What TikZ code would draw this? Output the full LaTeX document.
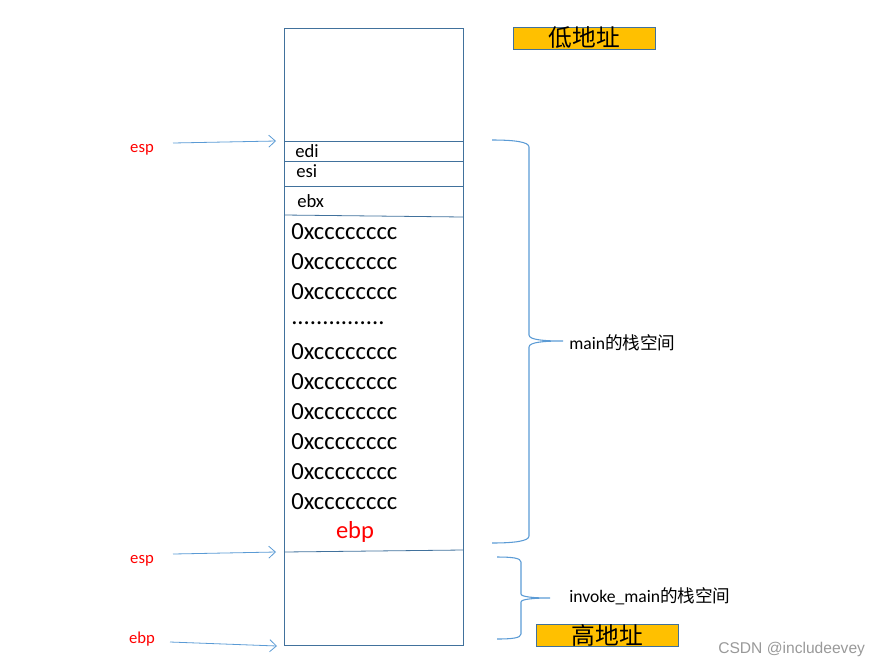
\documentclass[tikz,border=0pt]{standalone}
\usepackage{fontspec}
\setmainfont{Carlito}
\newfontfamily\cjk{Noto Sans CJK SC}
\newfontfamily\wmfont{Liberation Sans}
\usetikzlibrary{arrows.meta}
\definecolor{rectblue}{RGB}{65,113,156}
\definecolor{lineblue}{RGB}{91,155,213}
\definecolor{addrfill}{RGB}{255,192,0}
\tikzset{
  cell/.style={draw=rectblue, line width=0.6pt},
  reg/.style={anchor=west, inner sep=0pt, font=\fontsize{14}{16}\selectfont},
  val/.style={anchor=west, inner sep=0pt, font=\fontsize{18.5}{20}\selectfont},
  ptr/.style={inner sep=0pt, text=red, font=\fontsize{12.5}{14}\selectfont},
  ptrarrow/.style={draw=lineblue, line width=0.6pt, -{Straight Barb[length=5pt,width=9pt]}},
  brace/.style={draw=lineblue, line width=0.8pt},
  note/.style={anchor=west, inner sep=0pt, font=\fontsize{13.2}{15}\selectfont},
  addr/.style={draw=rectblue, fill=addrfill, line width=0.6pt, minimum width=107pt, minimum height=15pt, inner sep=0pt, font=\cjk\fontsize{17.8}{18}\selectfont},
}
\begin{document}
\begin{tikzpicture}[x=0.75pt,y=-0.75pt]
\useasboundingbox (0,0) rectangle (881,668);
% stack frame
\draw[cell] (284,28) rectangle (463,645);
\coordinate (l1) at (284,141); \coordinate (r1) at (463,141);
\coordinate (l2) at (284,161); \coordinate (r2) at (463,161);
\coordinate (l3) at (284,186); \coordinate (r3) at (463,186);
\coordinate (l4) at (284,215); \coordinate (r4) at (463,217);
\coordinate (l5) at (284,552); \coordinate (r5) at (463,550);
\draw[cell] (l1) -- (r1);
\draw[cell] (l2) -- (r2);
\draw[cell] (l3) -- (r3);
\draw[cell] (l4) -- (r4);
\draw[cell] (l5) -- (r5);
\node[reg] (edi) at (295,151.5) {edi};
\node[reg] (esi) at (296,171.5) {esi};
\node[reg] (ebx) at (297,201.5) {ebx};
\node[val] (v1) at (291,232) {0xcccccccc};
\node[val] (v2) at (291,262) {0xcccccccc};
\node[val] (v3) at (291,292) {0xcccccccc};
\node[val] (dots) at (291,323) {...............};
\node[val] (v4) at (291,352) {0xcccccccc};
\node[val] (v5) at (291,382) {0xcccccccc};
\node[val] (v6) at (291,412) {0xcccccccc};
\node[val] (v7) at (291,442) {0xcccccccc};
\node[val] (v8) at (291,472) {0xcccccccc};
\node[val] (v9) at (291,502) {0xcccccccc};
\node[inner sep=0pt, text=red, font=\fontsize{18.4}{20}\selectfont] (ebpin) at (355,532) {ebp};
% pointers
\node[ptr] (esp1) at (142,149.5) {esp};
\node[ptr] (esp2) at (142,560.5) {esp};
\node[ptr] (ebp1) at (142,639.5) {ebp};
\coordinate (a1s) at (173,143); \coordinate (a1e) at (276,141);
\coordinate (a2s) at (173,554); \coordinate (a2e) at (276,552);
\coordinate (a3s) at (170,642); \coordinate (a3e) at (277,646);
\draw[ptrarrow] (a1s) -- (a1e);
\draw[ptrarrow] (a2s) -- (a2e);
\draw[ptrarrow] (a3s) -- (a3e);
% braces
\draw[brace] (492,140) .. controls (515,140) and (529,142) .. (529,147)
  -- (529,335) .. controls (529,340) and (545,341) .. (563,341)
  .. controls (545,341) and (529,342) .. (529,347)
  -- (529,536) .. controls (529,541) and (515,543) .. (492,543);
\draw[brace] (497,557) .. controls (512,557) and (521,558) .. (521,562)
  -- (521,594) .. controls (521,597) and (535,598) .. (550,598)
  .. controls (535,598) and (521,599) .. (521,602)
  -- (521,634) .. controls (521,638) and (512,639) .. (497,639);
\node[note] (mainlbl) at (569,342.5) {main{\cjk 的栈空间}};
\node[note] (invlbl) at (569,596.5) {invoke\_main{\cjk 的栈空间}};
% address boxes
\node[addr] (low) at (584.5,38) {低地址};
\node[addr] (high) at (607.5,635.5) {高地址};
% watermark
\node[anchor=west, inner sep=0pt, text=black!40, font=\wmfont\fontsize{11.7}{14}\selectfont] (wm) at (718,649) {CSDN @includeevey};
\end{tikzpicture}
\end{document}
